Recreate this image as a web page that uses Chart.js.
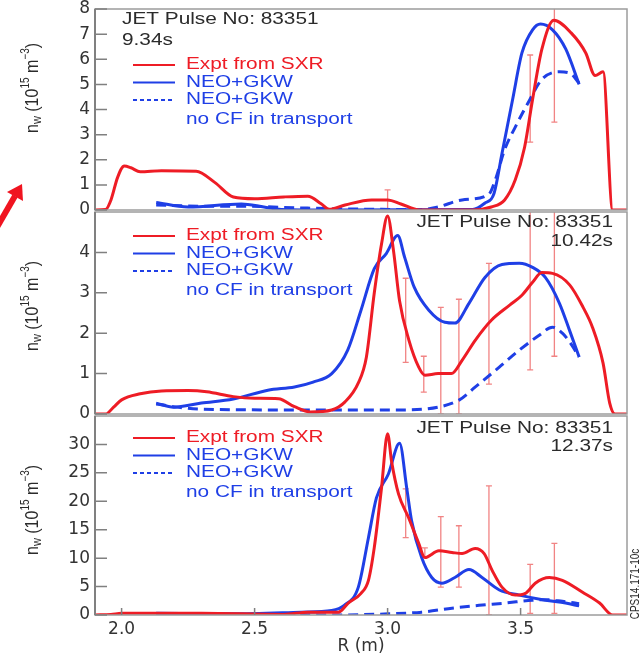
<!DOCTYPE html>
<html>
<head>
<meta charset="utf-8">
<script src="https://cdn.jsdelivr.net/npm/chart.js@4.4.0/dist/chart.umd.min.js"></script>
<style>
  body { margin: 0; background: #fff; }
  #wrap { position: relative; width: 642px; height: 657px; overflow: hidden; }
  #wrap canvas, #wrap svg { position: absolute; left: 0; }
</style>
</head>
<body>
<div id="wrap">
  <canvas id="p1" width="642" height="214" style="top:0;width:642px;height:214px"></canvas>
  <canvas id="p2" width="642" height="214" style="top:205px;width:642px;height:214px"></canvas>
  <canvas id="p3" width="642" height="248" style="top:409px;width:642px;height:248px"></canvas>
  <svg width="642" height="657" style="top:0">
    <line x1="-4" y1="229" x2="15" y2="196" stroke="#f01420" stroke-width="6"/>
    <polygon points="22,184 23,201 7,192" fill="#f01420"/>
  </svg>
</div>
<script>
// shared axis
const xTicks = [2.0, 2.5, 3.0, 3.5];

// panel 1: 9.34 s
const p1ExptR = [1.90, 1.94, 1.96, 1.985, 2.01, 2.035, 2.07, 2.15, 2.28, 2.35, 2.42, 2.50, 2.61, 2.70, 2.75, 2.78, 2.84, 2.94, 3.00, 3.05, 3.12, 3.32, 3.39, 3.44, 3.48, 3.515, 3.545, 3.58, 3.625, 3.69, 3.745, 3.78, 3.81, 3.846, 3.91];
const p1Expt  = [0.00, 0.02, 0.40, 1.30, 1.75, 1.68, 1.52, 1.56, 1.54, 1.10, 0.52, 0.45, 0.52, 0.55, 0.25, 0.03, 0.20, 0.40, 0.40, 0.24, 0.00, 0.00, 0.12, 0.40, 1.20, 2.50, 4.40, 6.40, 7.55, 7.05, 6.25, 5.35, 5.50, 0.00, 0.00];
const p1GkwR  = [2.13, 2.25, 2.45, 2.535, 2.60, 2.80, 3.32, 3.365, 3.40, 3.43, 3.47, 3.505, 3.545, 3.575, 3.62, 3.67, 3.72];
const p1Gkw   = [0.30, 0.12, 0.24, 0.12, 0.02, 0.00, 0.02, 0.27, 0.66, 2.25, 4.40, 6.25, 7.17, 7.40, 7.17, 6.40, 5.00];
const p1NoCfR = [2.13, 2.30, 2.45, 2.68, 2.80, 3.13, 3.19, 3.28, 3.38, 3.405, 3.44, 3.48, 3.535, 3.58, 3.645, 3.685, 3.72];
const p1NoCf  = [0.20, 0.15, 0.15, 0.08, 0.05, 0.02, 0.12, 0.40, 0.62, 1.20, 2.40, 3.30, 4.40, 5.20, 5.50, 5.45, 5.05];
const p1ErrR  = [3.0, 3.536, 3.627];
const p1ErrLo = [0.0, 2.7, 3.5];
const p1ErrHi = [0.8, 6.17, 8.3];
const p1YTicks = [0, 1, 2, 3, 4, 5, 6, 7, 8];

// panel 2: 10.42 s
const p2ExptR = [1.90, 1.94, 1.97, 2.00, 2.07, 2.15, 2.25, 2.32, 2.42, 2.50, 2.59, 2.65, 2.71, 2.79, 2.84, 2.89, 2.92, 2.95, 2.977, 3.00, 3.022, 3.045, 3.08, 3.117, 3.14, 3.19, 3.24, 3.28, 3.33, 3.39, 3.46, 3.505, 3.545, 3.58, 3.62, 3.685, 3.735, 3.77, 3.81, 3.835, 3.855, 3.91];
const p2Expt  = [0.00, 0.00, 0.17, 0.35, 0.50, 0.57, 0.58, 0.55, 0.43, 0.39, 0.38, 0.18, 0.05, 0.10, 0.30, 0.77, 1.40, 3.00, 4.20, 4.90, 4.05, 2.80, 1.83, 1.16, 0.96, 1.00, 1.00, 1.33, 1.83, 2.32, 2.70, 2.94, 3.26, 3.50, 3.48, 3.19, 2.64, 2.15, 1.26, 0.27, 0.00, 0.00];
const p2GkwR  = [2.13, 2.195, 2.30, 2.42, 2.55, 2.65, 2.72, 2.79, 2.85, 2.90, 2.95, 2.995, 3.038, 3.064, 3.10, 3.155, 3.215, 3.253, 3.306, 3.366, 3.43, 3.495, 3.545, 3.593, 3.646, 3.684, 3.72];
const p2Gkw   = [0.27, 0.17, 0.27, 0.37, 0.59, 0.67, 0.79, 1.00, 1.58, 2.57, 3.60, 3.97, 4.42, 3.88, 3.14, 2.57, 2.27, 2.25, 2.74, 3.38, 3.70, 3.73, 3.63, 3.38, 2.74, 2.07, 1.41];
const p2NoCfR = [2.13, 2.21, 2.30, 2.68, 3.05, 3.19, 3.27, 3.33, 3.42, 3.495, 3.57, 3.62, 3.657, 3.688, 3.72];
const p2NoCf  = [0.25, 0.17, 0.12, 0.10, 0.10, 0.17, 0.35, 0.67, 1.16, 1.58, 1.95, 2.15, 2.00, 1.75, 1.41];
const p2ErrR  = [3.068, 3.136, 3.2, 3.268, 3.381, 3.536, 3.627];
const p2ErrLo = [1.28, 0.54, 0.0, 0.0, 0.74, 1.09, 1.43];
const p2ErrHi = [3.36, 1.43, 2.64, 2.84, 3.73, 5.3, 5.3];
const p2YTicks = [0, 1, 2, 3, 4];

// panel 3: 12.37 s
const p3ExptR = [1.90, 1.96, 2.00, 2.30, 2.61, 2.70, 2.815, 2.852, 2.90, 2.928, 2.95, 2.977, 3.00, 3.015, 3.041, 3.079, 3.117, 3.14, 3.193, 3.242, 3.28, 3.329, 3.363, 3.393, 3.43, 3.48, 3.518, 3.555, 3.608, 3.657, 3.733, 3.797, 3.846, 3.91];
const p3Expt  = [0.0, 0.1, 0.3, 0.3, 0.1, 0.5, 0.5, 2.1, 3.8, 6.1, 11.9, 22.3, 31.9, 27.0, 21.3, 17.1, 12.6, 10.1, 11.3, 11.0, 10.8, 11.7, 10.8, 7.85, 4.9, 3.5, 3.8, 5.6, 6.6, 6.1, 4.0, 2.1, 0.0, 0.0];
const p3GkwR  = [2.13, 2.41, 2.675, 2.79, 2.837, 2.89, 2.928, 2.958, 3.003, 3.045, 3.072, 3.09, 3.128, 3.166, 3.204, 3.253, 3.306, 3.355, 3.42, 3.495, 3.593, 3.669, 3.72];
const p3Gkw   = [0.3, 0.2, 0.5, 0.8, 1.7, 4.9, 13.6, 20.6, 24.8, 30.2, 22.3, 16.6, 10.1, 6.6, 5.6, 6.6, 8.0, 6.6, 4.4, 3.5, 2.6, 2.1, 1.6];
const p3NoCfR = [2.13, 2.60, 2.80, 3.003, 3.128, 3.242, 3.344, 3.442, 3.544, 3.593, 3.657, 3.72];
const p3NoCf  = [0.1, 0.0, 0.0, 0.2, 0.5, 1.2, 1.7, 2.1, 2.6, 2.7, 2.4, 2.0];
const p3ErrR  = [3.068, 3.14, 3.2, 3.268, 3.381, 3.536, 3.627];
const p3ErrLo = [13.6, 10.2, 4.9, 4.9, 0.0, 0.3, 0.3];
const p3ErrHi = [22.2, 11.8, 17.3, 15.7, 22.7, 8.9, 12.6];
const p3YTicks = [0, 5, 10, 15, 20, 25, 30];

const legendLabels = ['Expt from SXR', 'NEO+GKW', 'NEO+GKW', 'no CF in transport'];

const RED = '#ee1c25';
const BLUE = '#1f3fe6';
const ERR = 'rgba(238,110,110,0.85)';
const TEXT = '#2b2b2b';
const FAM = '"Liberation Sans", Arial, sans-serif';
const SX = 1.3;
const tickFont = { family: 'DejaVu Sans', size: 17 };

function pts(xs, ys) {
  return xs.map((x, i) => ({ x: x, y: ys[i] }));
}

function series(xs, ys, color, dash) {
  return {
    data: pts(xs, ys),
    borderColor: color,
    borderWidth: 3,
    borderDash: dash,
    pointRadius: 0,
    cubicInterpolationMode: 'monotone',
    fill: false
  };
}

function stretchText(ctx, txt, x, y, align, color, size) {
  ctx.save();
  ctx.translate(x, y);
  ctx.scale(SX, 1);
  ctx.font = size + 'px ' + FAM;
  ctx.fillStyle = color;
  ctx.textAlign = align;
  ctx.textBaseline = 'middle';
  ctx.fillText(txt, 0, 0);
  ctx.restore();
}

function yTitle(ctx, cx, cy) {
  const parts = [['n', 0, 16], ['w', 4, 11], [' (10', 0, 16], ['15', -6, 10], [' m', 0, 16], ['\u22123', -6, 10], [')', 0, 16]];
  ctx.save();
  ctx.translate(cx, cy);
  ctx.rotate(-Math.PI / 2);
  ctx.scale(1, 1.2);
  ctx.fillStyle = TEXT;
  ctx.textBaseline = 'middle';
  let w = 0;
  parts.forEach(p => { ctx.font = p[2] + 'px ' + FAM; w += ctx.measureText(p[0]).width; });
  let x = -w / 2;
  parts.forEach(p => {
    ctx.font = p[2] + 'px ' + FAM;
    ctx.fillText(p[0], x, p[1]);
    x += ctx.measureText(p[0]).width;
  });
  ctx.restore();
}

// scales reserve room for half a label at each end; the frame is placed by hand here
function noScalePadding(s) {
  s.paddingTop = 0;
  s.paddingBottom = 0;
  s.paddingLeft = 0;
  s.paddingRight = 0;
}

function decor(cfg) {
  return {
    id: 'decor',
    beforeDatasetsDraw(chart) {
      const { ctx, chartArea: a, scales: { x, y } } = chart;
      ctx.save();
      ctx.beginPath();
      ctx.rect(a.left, a.top, a.right - a.left, a.bottom - a.top);
      ctx.clip();
      ctx.strokeStyle = ERR;
      ctx.lineWidth = 1.3;
      cfg.errR.forEach((r, i) => {
        const px = x.getPixelForValue(r);
        const y0 = y.getPixelForValue(cfg.errLo[i]);
        const y1 = y.getPixelForValue(cfg.errHi[i]);
        ctx.beginPath();
        ctx.moveTo(px, y0); ctx.lineTo(px, y1);
        ctx.moveTo(px - 3, y0); ctx.lineTo(px + 3, y0);
        ctx.moveTo(px - 3, y1); ctx.lineTo(px + 3, y1);
        ctx.stroke();
      });
      ctx.restore();
    },
    afterDraw(chart) {
      const { ctx, chartArea: a, scales: { x, y } } = chart;
      ctx.save();
      // frame
      ctx.strokeStyle = '#9c9c9c';
      ctx.lineWidth = 1.5;
      ctx.strokeRect(a.left, a.top, a.right - a.left, a.bottom - a.top);
      ctx.strokeStyle = '#808080';
      ctx.lineWidth = 2;
      ctx.beginPath();
      ctx.moveTo(a.left, a.top); ctx.lineTo(a.left, a.bottom);
      ctx.stroke();
      // inside tick marks
      ctx.lineWidth = 1.5;
      ctx.beginPath();
      y.ticks.forEach(t => {
        const py = y.getPixelForValue(t.value);
        ctx.moveTo(a.left, py); ctx.lineTo(a.left + 12, py);
      });
      if (cfg.showX) {
        x.ticks.forEach(t => {
          const px = x.getPixelForValue(t.value);
          ctx.moveTo(px, a.bottom); ctx.lineTo(px, a.bottom - 7);
        });
      }
      ctx.stroke();

      // legend
      const lx0 = 133, lx1 = 175, tx = 186;
      const rows = [0, 17.5, 35, 55].map(d => a.top + cfg.legendTop + d);
      ctx.lineWidth = 2;
      ctx.strokeStyle = RED;
      ctx.setLineDash([]);
      ctx.beginPath(); ctx.moveTo(lx0, rows[0]); ctx.lineTo(lx1, rows[0]); ctx.stroke();
      ctx.strokeStyle = BLUE;
      ctx.beginPath(); ctx.moveTo(lx0, rows[1]); ctx.lineTo(lx1, rows[1]); ctx.stroke();
      ctx.setLineDash([4, 3]);
      ctx.beginPath(); ctx.moveTo(lx0, rows[2]); ctx.lineTo(lx1, rows[2]); ctx.stroke();
      ctx.setLineDash([]);
      legendLabels.forEach((lab, i) => {
        stretchText(ctx, lab, tx, rows[i], 'left', i === 0 ? RED : BLUE, 16);
      });

      // pulse info
      stretchText(ctx, 'JET Pulse No: 83351', cfg.infoX, a.top + cfg.infoY[0], cfg.infoAlign, TEXT, 16);
      stretchText(ctx, cfg.time, cfg.infoX, a.top + cfg.infoY[1], cfg.infoAlign, TEXT, 16);

      yTitle(ctx, 33, cfg.titleY);

      if (cfg.showX) {
        ctx.save();
        ctx.translate(636, cfg.cpsY);
        ctx.rotate(-Math.PI / 2);
        ctx.scale(1, 1.2);
        ctx.font = '10px ' + FAM;
        ctx.fillStyle = TEXT;
        ctx.textAlign = 'center';
        ctx.textBaseline = 'middle';
        ctx.fillText('CPS14.171-10c', 0, 0);
        ctx.restore();
      }
      ctx.restore();
    }
  };
}

function makePanel(id, cfg) {
  const datasets = [
    series(cfg.exptR, cfg.expt, RED, []),
    series(cfg.gkwR, cfg.gkw, BLUE, []),
    series(cfg.nocfR, cfg.nocf, BLUE, [10, 6])
  ];
  return new Chart(document.getElementById(id), {
    type: 'line',
    data: { datasets: datasets },
    options: {
      responsive: false,
      animation: false,
      events: [],
      layout: {
        autoPadding: false,
        padding: { top: cfg.padTop, bottom: cfg.padBottom, left: 0, right: 15 }
      },
      plugins: { legend: { display: false }, tooltip: { enabled: false } },
      scales: {
        x: {
          type: 'linear',
          min: 1.9,
          max: 3.9,
          display: cfg.showX,
          afterBuildTicks: s => { s.ticks = xTicks.map(v => ({ value: v })); },
          afterFit: s => { s.height = cfg.showX ? 42 : 0; noScalePadding(s); },
          grid: { display: false, drawTicks: false },
          border: { display: false },
          ticks: { font: tickFont, color: '#333', padding: 4, autoSkip: false, callback: v => v.toFixed(1) },
          title: { display: true, text: 'R (m)', font: tickFont, color: '#333', padding: 0 }
        },
        y: {
          min: 0,
          max: cfg.yMax,
          afterBuildTicks: s => { s.ticks = cfg.yTicks.map(v => ({ value: v })); },
          afterFit: s => { s.width = 95; noScalePadding(s); },
          grid: { display: false, drawTicks: false },
          border: { display: false },
          ticks: { font: tickFont, color: '#333', padding: 5, autoSkip: false }
        }
      }
    },
    plugins: [decor(cfg)]
  });
}

makePanel('p1', {
  exptR: p1ExptR, expt: p1Expt, gkwR: p1GkwR, gkw: p1Gkw, nocfR: p1NoCfR, nocf: p1NoCf,
  errR: p1ErrR, errLo: p1ErrLo, errHi: p1ErrHi,
  yMax: 8, yTicks: p1YTicks, showX: false, padTop: 9, padBottom: 4,
  legendTop: 56, infoX: 122, infoY: [11, 32], infoAlign: 'left', time: '9.34s',
  titleY: 88
});

makePanel('p2', {
  exptR: p2ExptR, expt: p2Expt, gkwR: p2GkwR, gkw: p2Gkw, nocfR: p2NoCfR, nocf: p2NoCf,
  errR: p2ErrR, errLo: p2ErrLo, errHi: p2ErrHi,
  yMax: 5, yTicks: p2YTicks, showX: false, padTop: 7, padBottom: 5,
  legendTop: 24, infoX: 613, infoY: [11, 30], infoAlign: 'right', time: '10.42s',
  titleY: 306 - 205
});

makePanel('p3', {
  exptR: p3ExptR, expt: p3Expt, gkwR: p3GkwR, gkw: p3Gkw, nocfR: p3NoCfR, nocf: p3NoCf,
  errR: p3ErrR, errLo: p3ErrLo, errHi: p3ErrHi,
  yMax: 35, yTicks: p3YTicks, showX: true, padTop: 7, padBottom: 0,
  legendTop: 22, infoX: 613, infoY: [13, 31], infoAlign: 'right', time: '12.37s',
  titleY: 510 - 409, cpsY: 584 - 409
});
</script>
</body>
</html>
